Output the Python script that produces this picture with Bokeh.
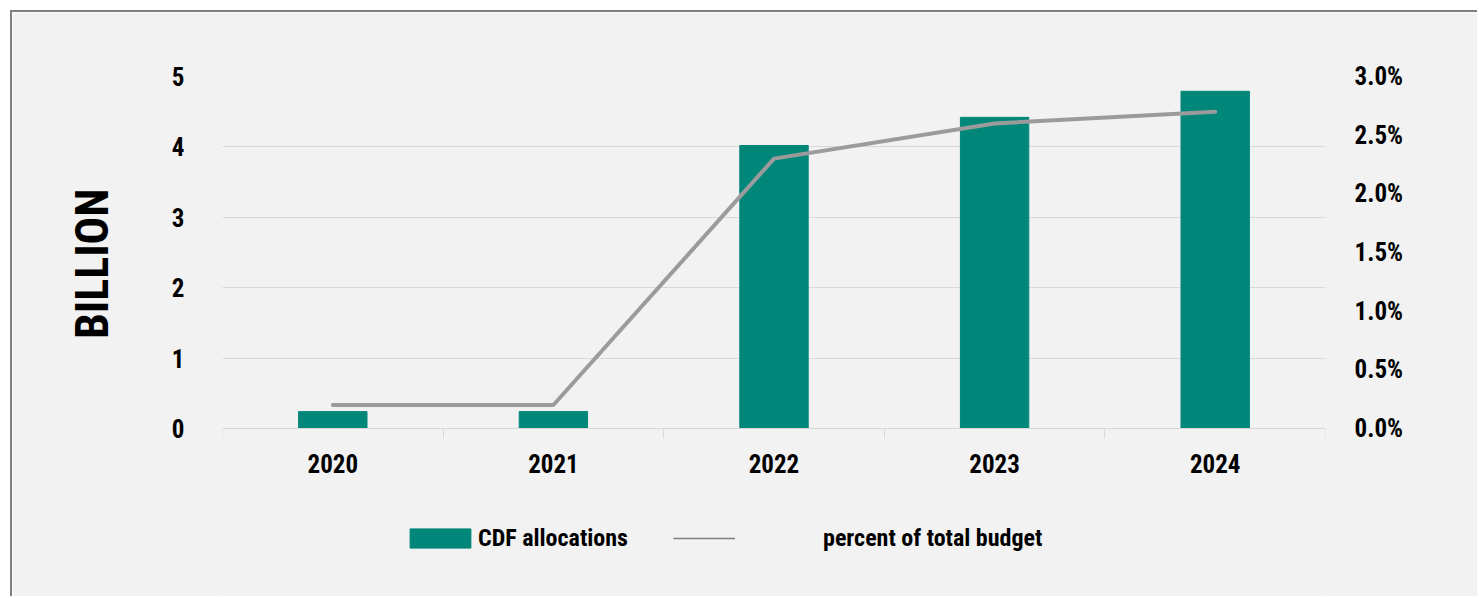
from bokeh.plotting import figure
from bokeh.models import (Range1d, LinearAxis, FixedTicker, Legend, LegendItem,
                          ColumnDataSource, NumeralTickFormatter, Title)
from bokeh.embed import file_html
from bokeh.resources import INLINE

# CDF allocations (billion) and their share of the total budget
years = ["2020", "2021", "2022", "2023", "2024"]
allocations = [0.24, 0.24, 4.02, 4.42, 4.79]
budget_share = [0.002, 0.002, 0.023, 0.026, 0.027]
left_ticks = [0, 1, 2, 3, 4, 5]
right_ticks = [0.0, 0.005, 0.010, 0.015, 0.020, 0.025, 0.030]

FONT = "'Roboto Condensed', 'DejaVu Sans Condensed', Roboto, sans-serif"
BG = "#f2f2f2"
TEAL = "#00877a"
GRID = "#d9d9d9"
SHARE_LINE = "#9b9b9b"
KEY_LINE = "#7f7f7f"

# the plot frame runs down to the bottom edge so the legend can sit inside it;
# the value axes stay bounded to their own tick ranges
Y_MAX, Y_MIN = 5, -2.415
PCT_PER_UNIT = 0.03 / Y_MAX

idx = list(range(len(years)))
src = ColumnDataSource(dict(x=idx, year=years, alloc=allocations, share=budget_share))

p = figure(width=1467, height=586,
           x_range=Range1d(-0.5, len(years) - 0.5), y_range=Range1d(Y_MIN, Y_MAX),
           output_backend="svg", toolbar_location=None,
           background_fill_color=BG, border_fill_color=BG,
           min_border=0, min_border_left=210, min_border_right=154,
           min_border_top=64, min_border_bottom=0)
p.outline_line_color = None
p.margin = (10, 0, 0, 10)
p.styles = {"border-left": "2px solid #7f7f7f", "border-top": "2px solid #7f7f7f"}

# left axis (billions)
yl = p.yaxis[0]
yl.bounds = (0, Y_MAX)
yl.ticker = FixedTicker(ticks=left_ticks)
yl.axis_line_color = None
yl.major_tick_line_color = None
yl.minor_tick_line_color = None
yl.major_label_standoff = 32
yl.major_label_text_font = FONT
yl.major_label_text_font_style = "bold"
yl.major_label_text_font_size = "25px"
yl.major_label_text_color = "black"

# unit caption beside the 0-5 span of the axis
p.add_layout(Title(text="BILLION", align="right", offset=112, standoff=100,
                   text_font=FONT, text_font_style="bold", text_font_size="46px",
                   text_color="black"), "left")

p.ygrid.ticker = FixedTicker(ticks=left_ticks)
p.ygrid.grid_line_color = GRID
p.xgrid.visible = False

# right axis (percent of budget)
p.extra_y_ranges = {"pct": Range1d(Y_MIN * PCT_PER_UNIT, Y_MAX * PCT_PER_UNIT)}
yr = LinearAxis(y_range_name="pct", ticker=FixedTicker(ticks=right_ticks),
                formatter=NumeralTickFormatter(format="0.0%"),
                bounds=(0, Y_MAX * PCT_PER_UNIT))
yr.axis_line_color = None
yr.major_tick_line_color = None
yr.minor_tick_line_color = None
yr.major_label_standoff = 23
yr.major_label_text_font = FONT
yr.major_label_text_font_style = "bold"
yr.major_label_text_font_size = "25px"
yr.major_label_text_color = "black"
p.add_layout(yr, "right")

# x axis sits on zero: labels at category centres, ticks on the boundaries
xa = p.xaxis[0]
xa.fixed_location = 0
xa.ticker = FixedTicker(ticks=idx, minor_ticks=[i - 0.5 for i in range(len(years) + 1)])
xa.major_label_overrides = {i: y for i, y in zip(idx, years)}
xa.major_tick_in = 0
xa.major_tick_out = 0
xa.minor_tick_in = 0
xa.minor_tick_out = 10
xa.minor_tick_line_color = GRID
xa.axis_line_color = GRID
xa.major_label_standoff = 16
xa.major_label_text_font = FONT
xa.major_label_text_font_style = "bold"
xa.major_label_text_font_size = "25px"
xa.major_label_text_color = "black"

bars = p.vbar(x="x", top="alloc", width=0.31, source=src,
              fill_color=TEAL, line_color=TEAL)
# thin key line (used by the legend), covered by the wide series line on top
share_key = p.line(x="x", y="share", source=src, y_range_name="pct",
                   line_color=KEY_LINE, line_width=1.5)
p.line(x="x", y="share", source=src, y_range_name="pct",
       line_color=SHARE_LINE, line_width=4, line_cap="round", line_join="round")

common = dict(orientation="horizontal", border_line_color=None,
              background_fill_alpha=0, padding=0, margin=0,
              label_text_font=FONT, label_text_font_style="bold",
              label_text_font_size="24px", label_text_color="black",
              glyph_height=24, label_height=24)
p.add_layout(Legend(items=[LegendItem(label="CDF allocations", renderers=[bars])],
                    location=(180, 46), glyph_width=76, label_standoff=0, **common))
p.add_layout(Legend(items=[LegendItem(label="percent of total budget", renderers=[share_key])],
                    location=(451, 46), glyph_width=62, label_standoff=88, **common))

open("out.html", "w").write(file_html(p, INLINE))
